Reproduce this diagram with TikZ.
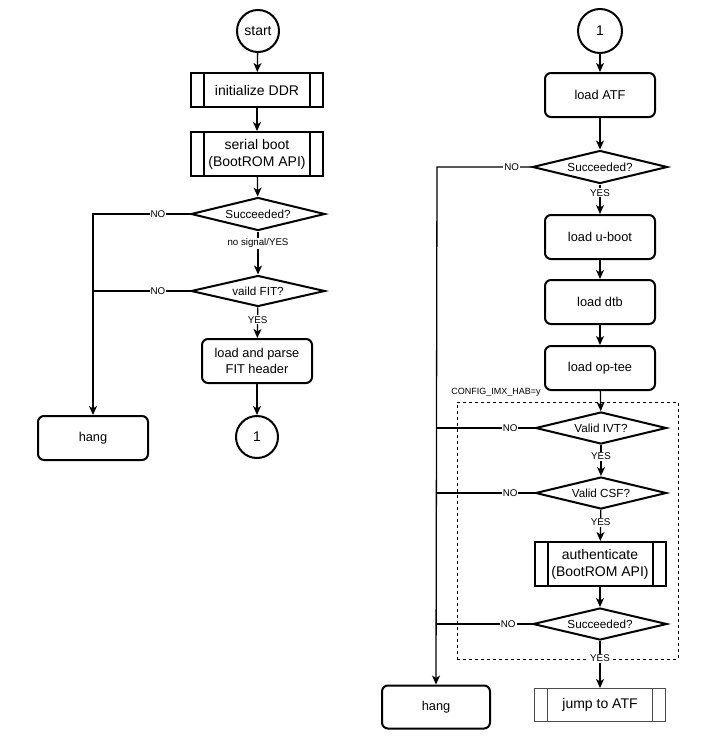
\documentclass[tikz,border=0pt]{standalone}
\usepackage{fontspec}
\setmainfont{Liberation Sans}
\usetikzlibrary{shapes.geometric,arrows.meta}
\newcommand{\fsz}[1]{\fontsize{#1}{#1*1.2}\selectfont}
\tikzset{
  base/.style={draw, line width=2pt, align=center, inner sep=0pt},
  proc/.style={base, rounded corners=6pt, minimum width=110pt, minimum height=44pt, font=\fontsize{12.8}{15.4}\selectfont},
  subproc/.style={base, minimum width=132pt, minimum height=44pt, font=\fontsize{14}{16.8}\selectfont,
    path picture={\draw[line width=2pt] ([xshift=13pt]path picture bounding box.north west) -- ([xshift=13pt]path picture bounding box.south west);
                  \draw[line width=2pt] ([xshift=-13pt]path picture bounding box.north east) -- ([xshift=-13pt]path picture bounding box.south east);}},
  thinsub/.style={draw=black!70, line width=1pt, inner sep=0pt, minimum width=131pt, minimum height=33pt, font=\fontsize{14}{16.8}\selectfont,
    path picture={\draw[line width=1pt, black!70] ([xshift=13pt]path picture bounding box.north west) -- ([xshift=13pt]path picture bounding box.south west);
                  \draw[line width=1pt, black!70] ([xshift=-13pt]path picture bounding box.north east) -- ([xshift=-13pt]path picture bounding box.south east);}},
  decision/.style={base, shape=diamond, aspect=4, minimum width=134pt, minimum height=33pt, font=\fontsize{11.7}{14}\selectfont},
  term/.style={base, circle, minimum size=42pt, font=\fontsize{14}{16.8}\selectfont},
  conn/.style={line width=1.3pt, -{Stealth[length=9pt,width=8pt,inset=2.5pt]}},
  plain/.style={line width=1.3pt},
  elabel/.style={fill=white, inner sep=1pt, font=\fontsize{9.8}{11}\selectfont},
}
\begin{document}
\begin{tikzpicture}[x=1pt, y=-1pt]
\useasboundingbox (0,0) rectangle (714,742);
\fill[white] (0,0) rectangle (714,742);

% ---------- left column ----------
\node[term] (start) at (258,31) {start};
\node[subproc] (ddr) at (257,90) [minimum height=34pt] {initialize DDR};
\node[subproc] (serial) at (257,154) {serial boot\\(BootROM API)};
\node[decision] (succ1) at (258,214) {Succeeded?};
\node[decision] (fit) at (258,291) [minimum height=31pt] {vaild FIT?};
\node[proc] (parse) at (257,361) {load and parse\\FIT header};
\node[term] (c1) at (257,437) {1};
\node[proc] (hangL) at (93,438) {hang};
\coordinate (jL1) at (93,214);
\coordinate (jL2) at (93,291);

\draw[conn] (start) -- (ddr);
\draw[conn] (ddr) -- (serial);
\draw[conn] (serial) -- (succ1);
\draw[conn] (succ1) -- node[elabel, pos=0.27, font=\fontsize{9.7}{11}\selectfont] {no signal/YES} (fit);
\draw[conn] (fit) -- node[elabel, pos=0.4] {YES} (parse);
\draw[conn] (parse) -- (c1);
\draw[conn] (succ1.west) -- node[elabel, pos=0.33] {NO} (jL1) -- (hangL.north);
\draw[plain] (fit.west) -- node[elabel, pos=0.33] {NO} (jL2);

% ---------- right column ----------
\node[term] (c1r) at (600,31) [minimum size=44pt] {1};
\node[proc] (atf) at (600,95) {load ATF};
\node[decision] (succ2) at (600,167) [minimum width=135pt] {Succeeded?};
\node[proc] (uboot) at (600,237) {load u-boot};
\node[proc] (dtb) at (600,302) {load dtb};
\node[proc] (optee) at (600,368) {load op-tee};
\node[font=\fontsize{9}{10.8}\selectfont, inner sep=0pt] (hab) at (496,392) {CONFIG\_IMX\_HAB=y};
\node[draw, dashed, line width=1pt, minimum width=221pt, minimum height=257pt, inner sep=0pt] (habbox) at (567.5,530.5) {};
\node[decision] (ivt) at (601,428) [minimum width=131pt, minimum height=32pt] {Valid IVT?};
\node[decision] (csf) at (601,493) [minimum width=131pt, minimum height=32pt] {Valid CSF?};
\node[subproc] (auth) at (600,564) [minimum width=131pt] {authenticate\\(BootROM API)};
\node[decision] (succ3) at (600,624) [minimum height=32pt] {Succeeded?};
\node[thinsub] (jump) at (600,705) {jump to ATF};
\node[proc] (hangR) at (436,707) [minimum width=108pt, minimum height=43pt] {hang};
\coordinate (jR1) at (437,167);
\coordinate (jR2) at (437,428);
\coordinate (jR3) at (437,493);
\coordinate (jR4) at (437,624);

\draw[conn] (c1r) -- (atf);
\draw[conn] (atf) -- (succ2);
\draw[conn] (succ2) -- node[elabel, pos=0.28] {YES} (uboot);
\draw[conn] (uboot) -- (dtb);
\draw[conn] (dtb) -- (optee);
\draw[conn] (optee) -- (ivt);
\draw[conn] (ivt) -- node[elabel, pos=0.36] {YES} (csf);
\draw[conn] (csf) -- node[elabel, pos=0.39] {YES} (auth);
\draw[conn] (auth) -- (succ3);
\draw[conn] (succ3) -- node[elabel, pos=0.37] {YES} (jump);
\draw[conn] (succ2.west) -- node[elabel, pos=0.21] {NO} (jR1) -- (hangR.north);
\draw[plain] (ivt.west) -- node[elabel, pos=0.25] {NO} (jR2);
\draw[plain] (csf.west) -- node[elabel, pos=0.25] {NO} (jR3);
\draw[plain] (succ3.west) -- node[elabel, pos=0.25] {NO} (jR4);
\end{tikzpicture}
\end{document}
